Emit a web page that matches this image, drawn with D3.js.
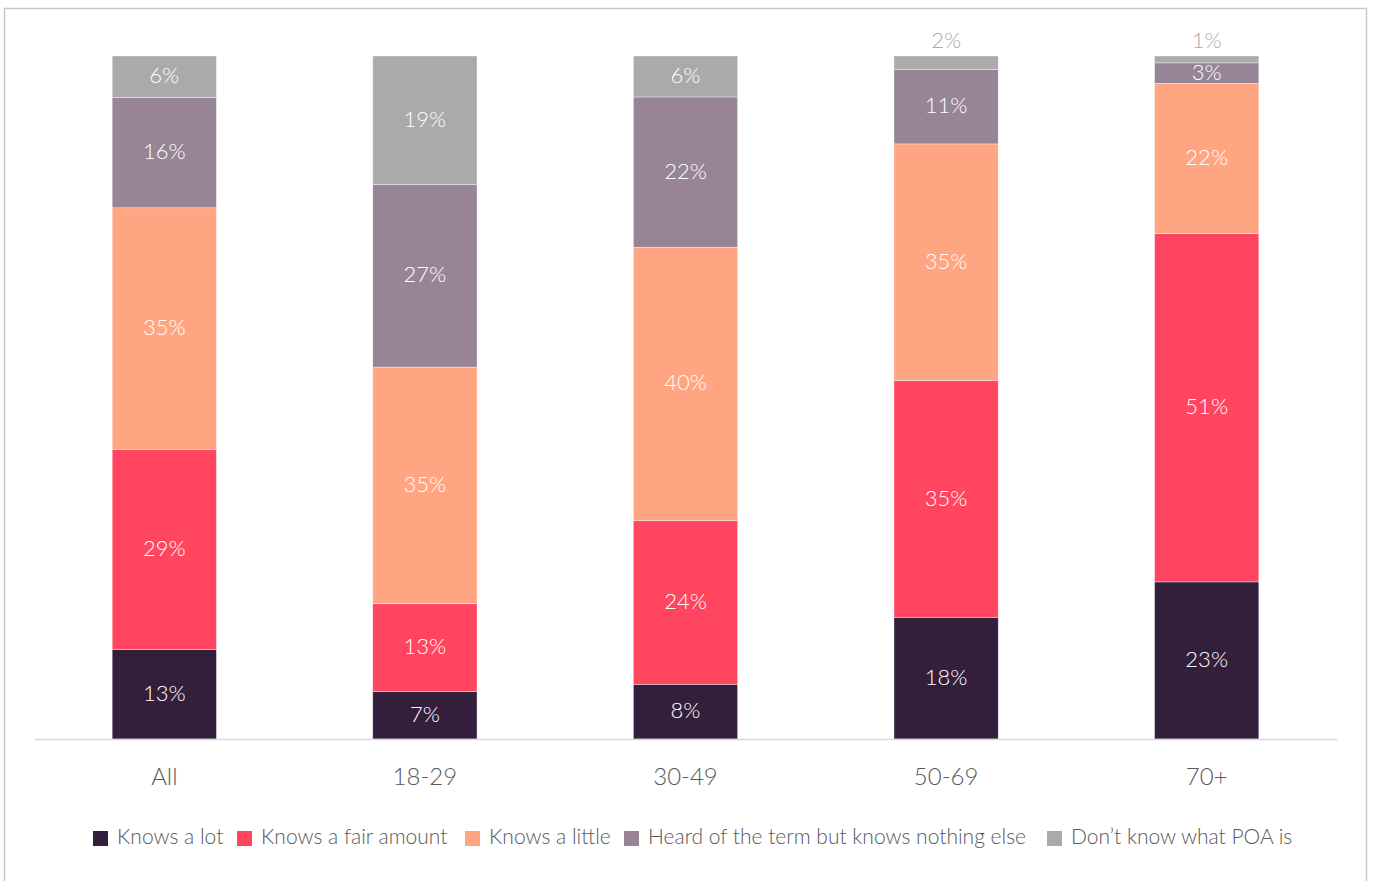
<!DOCTYPE html>
<html>
<head>
<meta charset="utf-8">
<script src="https://cdn.jsdelivr.net/npm/d3@7"></script>
<style>
  body { margin: 0; background: #fff; }
  svg { display: block; font-family: Lato, "Open Sans", sans-serif; font-weight: 300; }
</style>
</head>
<body>
<div id="chart"></div>
<script>
// data
const groups = ["All", "18-29", "30-49", "50-69", "70+"];
const seriesNames = ["Knows a lot", "Knows a fair amount", "Knows a little",
  "Heard of the term but knows nothing else", "Don\u2019t know what POA is"];
const knowsALot       = [13, 7, 8, 18, 23];
const knowsFairAmount = [29, 13, 24, 35, 51];
const knowsALittle    = [35, 35, 40, 35, 22];
const heardOfTerm     = [16, 27, 22, 11, 3];
const dontKnow        = [6, 19, 6, 2, 1];
const colors = ["#331f3b", "#ff455f", "#ffa582", "#978597", "#aaaaaa"];

const W = 1374, H = 881;
const svg = d3.select("#chart").append("svg").attr("width", W).attr("height", H);

// frame
svg.append("rect").attr("x", 4.5).attr("y", 8.5).attr("width", 1362).attr("height", 900)
  .attr("fill", "none").attr("stroke", "#c8c8c8").attr("stroke-width", 1.5);

const rows = groups.map((g, i) => {
  const r = { group: g };
  r[seriesNames[0]] = knowsALot[i];
  r[seriesNames[1]] = knowsFairAmount[i];
  r[seriesNames[2]] = knowsALittle[i];
  r[seriesNames[3]] = heardOfTerm[i];
  r[seriesNames[4]] = dontKnow[i];
  return r;
});

// 100% stacked: each bar scaled to its own total
const stacked = d3.stack().keys(seriesNames).offset(d3.stackOffsetExpand)(rows);

const x = d3.scaleBand().domain(groups).range([34, 1337]).paddingInner(0.6).paddingOuter(0.3);
const y = d3.scaleLinear().domain([0, 1]).range([739, 56]);
const color = d3.scaleOrdinal().domain(seriesNames).range(colors);

const layers = svg.selectAll("g.layer").data(stacked).join("g")
  .attr("class", "layer").attr("fill", d => color(d.key));

layers.selectAll("rect").data(d => d).join("rect")
  .attr("x", d => x(d.data.group))
  .attr("width", x.bandwidth())
  .attr("y", d => y(d[1]))
  .attr("height", d => y(d[0]) - y(d[1]))
  .attr("stroke", "#fff").attr("stroke-width", 0.6).attr("stroke-opacity", 0.6);

// value labels (tiny segments get their label above the bar)
layers.each(function (layer) {
  d3.select(this).selectAll("text").data(layer).join("text")
    .attr("x", d => x(d.data.group) + x.bandwidth() / 2)
    .attr("y", d => {
      const h = y(d[0]) - y(d[1]);
      return h < 15 ? y(d[1]) - 15 : (y(d[0]) + y(d[1])) / 2;
    })
    .attr("dy", "0.3em")
    .attr("text-anchor", "middle")
    .attr("font-size", 22)
    .attr("fill", d => (y(d[0]) - y(d[1]) < 15) ? "#aaaaaa" : "#ffffff")
    .text(d => d.data[layer.key] + "%");
});

// axis
const axis = svg.append("g").attr("transform", "translate(0,739)")
  .call(d3.axisBottom(x).tickSize(0).tickPadding(29));
axis.select(".domain").attr("stroke", "#d9d9d9").attr("stroke-width", 1.5);
axis.selectAll("text").attr("font-size", 24).attr("fill", "#595959")
  .attr("font-family", "Lato, sans-serif").attr("font-weight", 300);

// legend
const legendX = [93, 237, 465, 624, 1047];
const legend = svg.selectAll("g.legend").data(seriesNames).join("g")
  .attr("class", "legend")
  .attr("transform", (d, i) => "translate(" + legendX[i] + ",831)");
legend.append("rect").attr("width", 15).attr("height", 15).attr("fill", d => color(d));
legend.append("text").attr("x", 24).attr("y", 6).attr("dy", "0.35em")
  .attr("font-size", 21).attr("fill", "#595959").text(d => d);
</script>
</body>
</html>
